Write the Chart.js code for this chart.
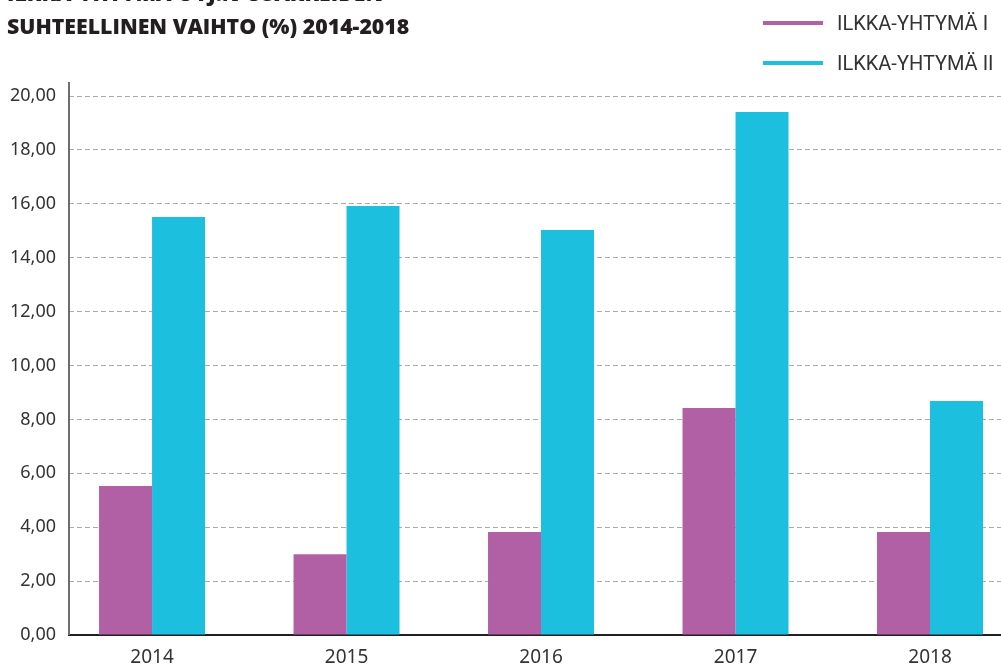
<!DOCTYPE html>
<html lang="fi">
<head>
<meta charset="utf-8">
<title>Ilkka-Yhtymä osakkeiden vaihto</title>
<script src="https://cdn.jsdelivr.net/npm/chart.js@4/dist/chart.umd.min.js"></script>
<style>
    html, body { margin: 0; padding: 0; background: #fff; overflow: hidden; }
    #wrap { position: relative; width: 1001px; height: 667px; }
    #chart { position: absolute; left: 0; top: 0; }
    .title {
        position: absolute; left: 7px; margin: 0;
        font-family: "Open Sans", sans-serif; font-weight: 800; font-size: 21.3px;
        color: #231f20; white-space: nowrap; line-height: 20px;
    }
    .legend { position: absolute; left: 763px; font-family: Roboto, sans-serif;
        font-size: 20px; color: #333; white-space: nowrap; line-height: 20px; }
    .legend span.swatch { display: inline-block; width: 60px; height: 4px;
        vertical-align: middle; margin-right: 14px; position: relative; top: -2px; }
</style>
</head>
<body>
<div id="wrap">
    <canvas id="chart" width="1001" height="667"></canvas>
    <div class="title" style="top:-17px">ILKKA-YHTYMÄ OYJ:N OSAKKEIDEN</div>
    <div class="title" style="top:16px">SUHTEELLINEN VAIHTO (%) 2014-2018</div>
    <div class="legend" style="top:13px"><span class="swatch" style="background:#b160a6"></span>ILKKA-YHTYMÄ I</div>
    <div class="legend" style="top:53px"><span class="swatch" style="background:#1dbfdf"></span>ILKKA-YHTYMÄ II</div>
</div>
<script>
/* ================= DATA ================= */
const years = [2014, 2015, 2016, 2017, 2018];
const seriesI  = [5.53, 3.00, 3.82, 8.42, 3.82];
const seriesII = [15.51, 15.92, 15.03, 19.41, 8.68];
const yTicks = [0, 2, 4, 6, 8, 10, 12, 14, 16, 18, 20];

/* ================= HELPERS ================= */
function fiNumber(v) {
    return v.toFixed(2).replace(".", ",");
}

const yAxisLine = {
    id: "yAxisLine",
    afterDatasetsDraw(chart) {
        const { ctx, chartArea } = chart;
        ctx.save();
        ctx.strokeStyle = "#6d6e71";
        ctx.lineWidth = 2;
        ctx.beginPath();
        ctx.moveTo(chartArea.left, chartArea.top - 14);
        ctx.lineTo(chartArea.left, chartArea.bottom);
        ctx.stroke();
        ctx.restore();
    }
};

/* ================= CHART ================= */
new Chart(document.getElementById("chart"), {
    type: "bar",
    data: {
        datasets: [
            {
                label: "ILKKA-YHTYMÄ I",
                data: years.map((y, i) => ({ x: y, y: seriesI[i] })),
                backgroundColor: "#b160a6"
            },
            {
                label: "ILKKA-YHTYMÄ II",
                data: years.map((y, i) => ({ x: y, y: seriesII[i] })),
                backgroundColor: "#1dbfdf"
            }
        ]
    },
    options: {
        responsive: false,
        animation: false,
        devicePixelRatio: 1,
        categoryPercentage: 0.545,
        barPercentage: 1,
        layout: { padding: { top: 96, right: 0, bottom: 0, left: 0 } },
        plugins: {
            legend: { display: false },
            tooltip: { enabled: false }
        },
        scales: {
            x: {
                type: "linear",
                offset: false,
                min: 2013.573,
                max: 2018.365,
                afterBuildTicks: s => { s.ticks = years.map(v => ({ value: v })); },
                afterFit: s => { s.height = 32; },
                grid: { display: false, offset: false },
                border: { display: true, color: "#231f20", width: 2 },
                ticks: {
                    callback: v => String(v),
                    color: "#333",
                    padding: 3,
                    maxRotation: 0,
                    autoSkip: false,
                    font: { family: "Noto Sans", size: 19 }
                }
            },
            y: {
                min: 0,
                max: 20,
                afterBuildTicks: s => { s.ticks = yTicks.map(v => ({ value: v })); },
                afterFit: s => { s.width = 69; },
                grid: { color: "#aaaaaa", lineWidth: 1, drawTicks: false },
                border: { display: false, dash: [5, 3] },
                ticks: {
                    callback: v => fiNumber(v),
                    color: "#333",
                    padding: 13,
                    font: { family: "Noto Sans", size: 18 }
                }
            }
        }
    },
    plugins: [yAxisLine]
});
</script>
</body>
</html>
